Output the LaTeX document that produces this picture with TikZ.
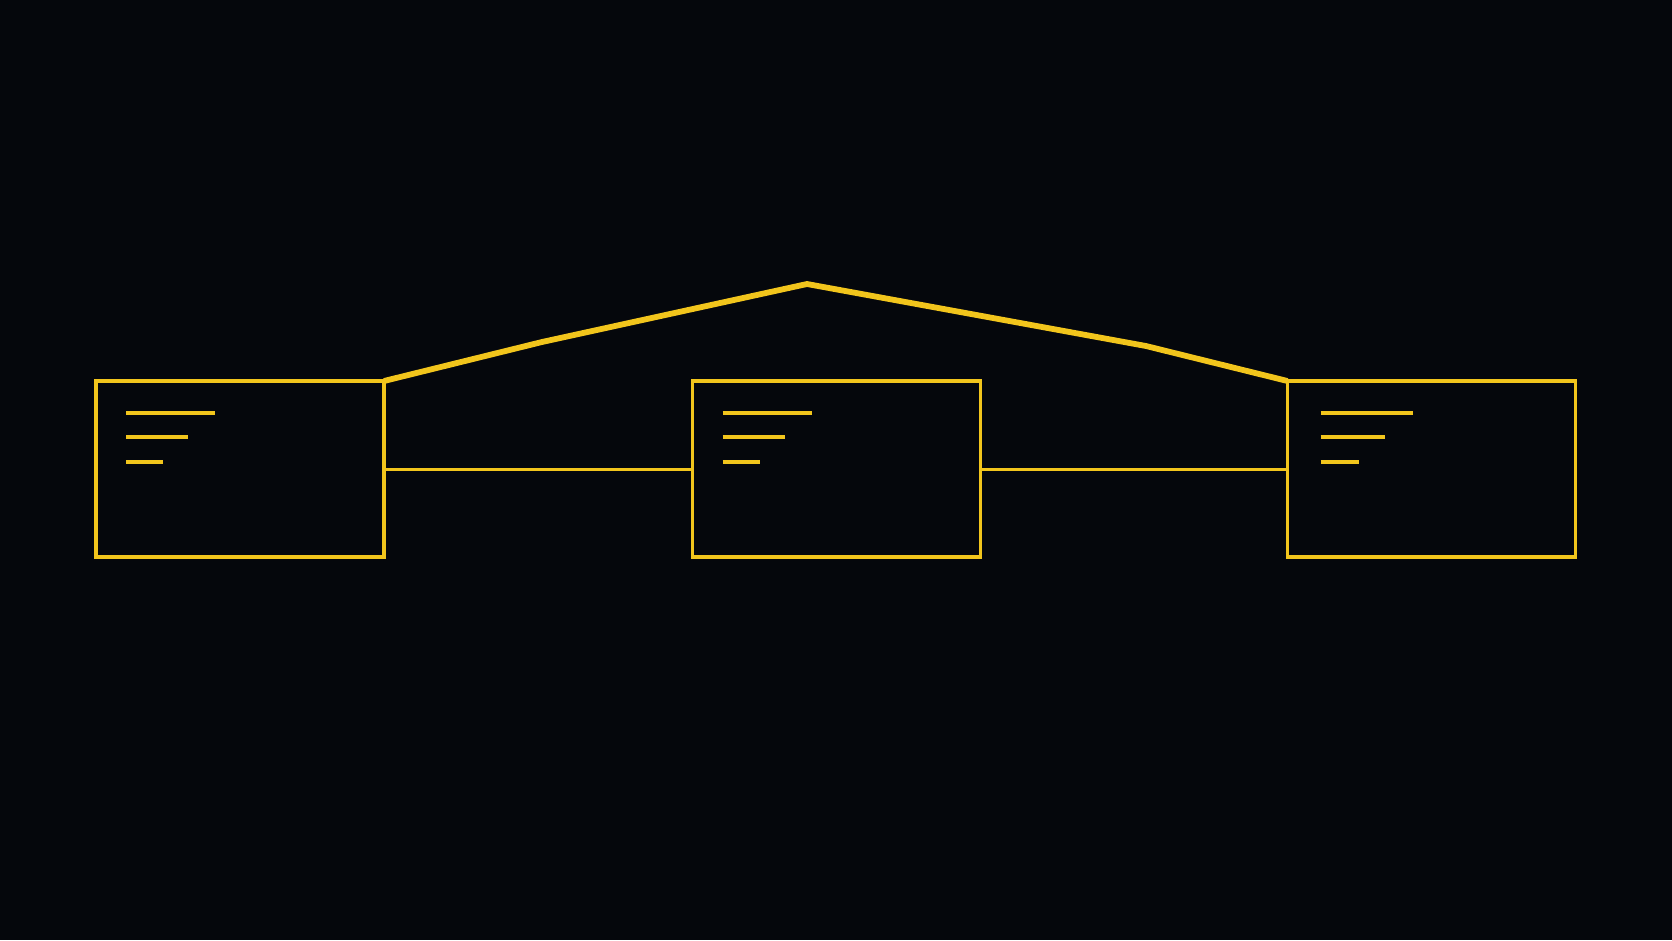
\documentclass[tikz,border=0pt]{standalone}
\definecolor{bgc}{HTML}{05070C}
\definecolor{ylw}{HTML}{F2C51C}
\tikzset{
  boxnode/.style={draw=ylw, line width=3.2pt, minimum width=288pt, minimum height=176pt, inner sep=0pt, outer sep=0pt, rectangle},
  roofline/.style={draw=ylw, line width=5.8pt, line join=round},
  linkline/.style={draw=ylw, line width=3pt},
  textbar/.style={draw=ylw, line width=4pt}
}
\begin{document}
\begin{tikzpicture}[x=1pt,y=-1pt]
\fill[bgc] (0,0) rectangle (1672,940);
\useasboundingbox (0,0) rectangle (1672,940);
\node[boxnode] (b1) at (240,469) {};
\node[boxnode] (b2) at (836.5,469) {};
\node[boxnode] (b3) at (1431.5,469) {};
\coordinate (k1) at (542,342);
\coordinate (pk) at (807,284);
\coordinate (k2) at (1146,346);
\draw[roofline] (b1.north east) -- (k1) -- (pk) -- (k2) -- (b3.north west);
\draw[linkline] (b1.east) -- (b2.west);
\draw[linkline] (b2.east) -- (b3.west);
\foreach \b/\dx/\s in {b1/30/1,b2/30/1,b3/33/1.04}{
  \draw[textbar] ([xshift=\dx pt,yshift=-32pt]\b.north west) -- ++(89*\s,0);
  \draw[textbar] ([xshift=\dx pt,yshift=-56pt]\b.north west) -- ++(62*\s,0);
  \draw[textbar] ([xshift=\dx pt,yshift=-81pt]\b.north west) -- ++(37*\s,0);
}
\end{tikzpicture}
\end{document}
